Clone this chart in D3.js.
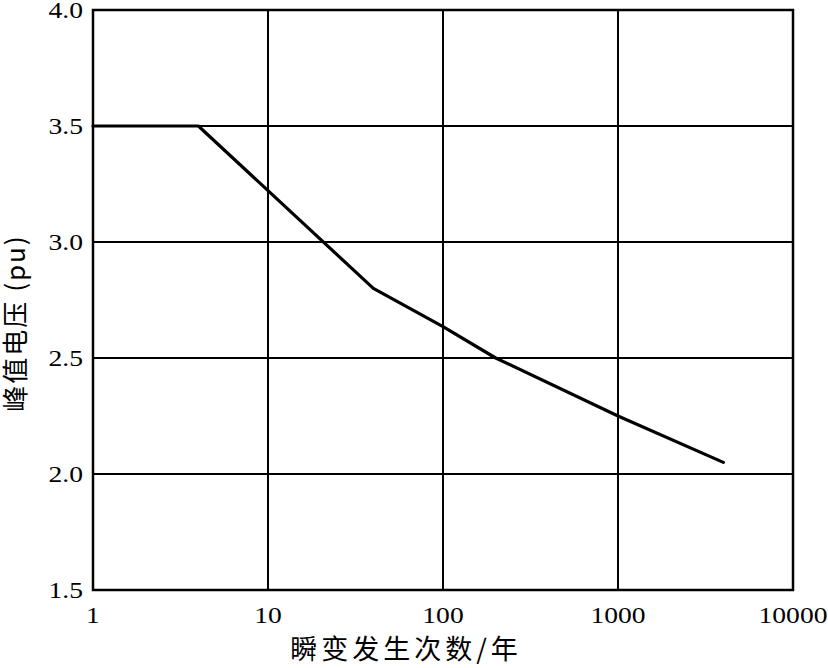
<!DOCTYPE html>
<html>
<head>
<meta charset="utf-8">
<script src="https://cdn.jsdelivr.net/npm/d3@7"></script>
<style>
	body { margin: 0; background: #fff; }
	svg { display: block; }
</style>
</head>
<body>
<svg id="chart" width="828" height="668"></svg>
<script>
// data
var counts = [1, 4, 40, 100, 200, 1000, 4000];
var peakVoltage = [3.5, 3.5, 2.8, 2.635, 2.5, 2.25, 2.05];

var xTicks = [1, 10, 100, 1000, 10000];
var yTicks = [1.5, 2.0, 2.5, 3.0, 3.5, 4.0];

var xTitle = "瞬变发生次数/年";
var yTitle = "峰值电压 (pu)";

var svg = d3.select("#chart");

var margin = { left: 93, right: 35, top: 10, bottom: 78 };
var width = 828 - margin.left - margin.right;
var height = 668 - margin.top - margin.bottom;

var x = d3.scaleLog()
	.domain([1, 10000])
	.range([0, width]);

var y = d3.scaleLinear()
	.domain([1.5, 4.0])
	.range([height, 0]);

var g = svg.append("g")
	.attr("transform", "translate(" + margin.left + "," + margin.top + ")");

// grid lines
g.selectAll(".vgrid")
	.data(xTicks)
.enter().append("line")
	.attr("class", "vgrid")
	.attr("x1", (d) => x(d))
	.attr("x2", (d) => x(d))
	.attr("y1", 0)
	.attr("y2", height)
	.style("stroke", "#000")
	.style("stroke-width", 2);

g.selectAll(".hgrid")
	.data(yTicks)
.enter().append("line")
	.attr("class", "hgrid")
	.attr("x1", 0)
	.attr("x2", width)
	.attr("y1", (d) => y(d))
	.attr("y2", (d) => y(d))
	.style("stroke", "#000")
	.style("stroke-width", 2);

// frame
g.append("rect")
	.attr("width", width)
	.attr("height", height)
	.style("fill", "none")
	.style("stroke", "#000")
	.style("stroke-width", 2.5);

// tick labels (the scanned font is a bit wide, so stretch it)
g.selectAll(".xlabel")
	.data(xTicks)
.enter().append("text")
	.attr("class", "xlabel")
	.attr("transform", (d) => "translate(" + x(d) + "," + (height + 33) + ") scale(1.2,1)")
	.attr("text-anchor", "middle")
	.style("font-family", "'Liberation Serif', 'Times New Roman', serif")
	.style("font-size", "23px")
	.text((d) => d);

g.selectAll(".ylabel")
	.data(yTicks)
.enter().append("text")
	.attr("class", "ylabel")
	.attr("transform", (d) => "translate(-10," + y(d) + ") scale(1.2,1)")
	.attr("dy", "0.35em")
	.attr("text-anchor", "end")
	.style("font-family", "'Liberation Serif', 'Times New Roman', serif")
	.style("font-size", "23px")
	.text((d) => d.toFixed(1));

// the curve
var line = d3.line()
	.x((d, i) => x(counts[i]))
	.y((d) => y(d));

g.append("path")
	.datum(peakVoltage)
	.attr("d", line)
	.style("fill", "none")
	.style("stroke", "#000")
	.style("stroke-width", 3.2)
	.style("stroke-linejoin", "round")
	.style("stroke-linecap", "round");

// axis titles
svg.append("text")
	.attr("x", 406)
	.attr("y", 659)
	.attr("text-anchor", "middle")
	.style("font-family", "'Noto Sans CJK SC', sans-serif")
	.style("font-size", "27px")
	.style("letter-spacing", "4px")
	.text(xTitle);

svg.append("text")
	.attr("transform", "translate(25,323) rotate(-90)")
	.attr("text-anchor", "middle")
	.style("font-family", "'Noto Sans CJK SC', sans-serif")
	.style("font-size", "26px")
	.style("letter-spacing", "2px")
	.text(yTitle);
</script>
</body>
</html>
